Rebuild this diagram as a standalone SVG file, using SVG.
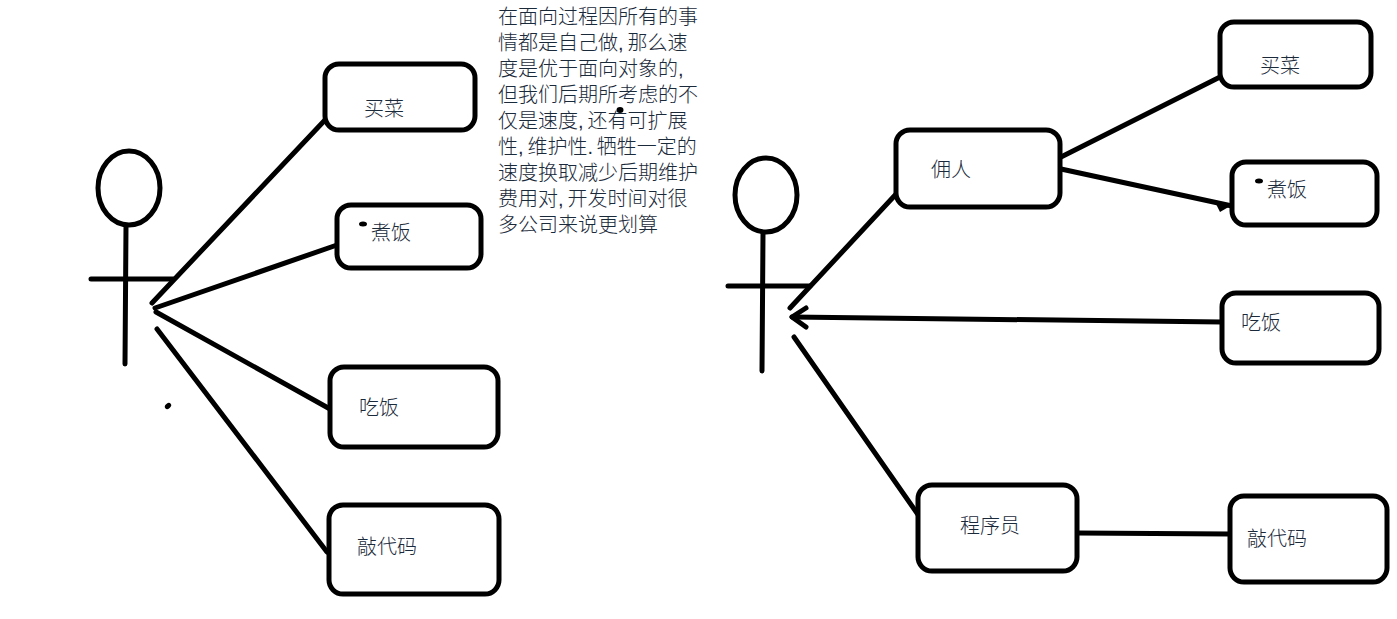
<svg xmlns="http://www.w3.org/2000/svg" width="1397" height="619" viewBox="0 0 1397 619">
<style>
.n{fill:#fff;stroke:#000;stroke-width:5}
.l{fill:none;stroke:#000;stroke-width:5;stroke-linecap:round;stroke-linejoin:round}
.t{font-family:"Liberation Sans","Noto Sans CJK SC",sans-serif;font-size:20px;fill:#1a2a3a;font-weight:300}
#note .t{word-spacing:-1.7px}
.d{fill:#000}
</style>
<rect width="1397" height="619" fill="#fff"/>
<g id="connectors">
<path class="l" d="M152 303L325 120"/>
<path class="l" d="M155 308L337 245"/>
<path class="l" d="M156 312L330 409"/>
<path class="l" d="M157 329L327 552"/>
<path class="l" d="M790 308L898 192"/>
<path class="l" d="M1061 157L1222 76"/>
<path class="l" d="M1061 169L1232 206"/>
<path class="l" d="M792 317L1222 322"/>
<path class="l" d="M794 337L919 516"/>
<path class="l" d="M1077 533L1230 534"/>
<path d="M1214 200L1232 205L1220 212Z" class="d"/>
<path class="l" d="M806 308L792 317L806 327"/>
</g>
<g id="actor-left">
<ellipse class="l" cx="129" cy="188" rx="31" ry="37"/>
<path class="l" d="M126 226L125 364M91 279L173 279"/>
</g>
<g id="actor-right">
<ellipse class="l" cx="766" cy="195" rx="31" ry="37"/>
<path class="l" d="M763 233L762 371M728 286L810 286"/>
</g>
<g id="n1"><rect class="n" x="325" y="64" width="150" height="66" rx="14"/><text class="t" x="364" y="116">买菜</text></g>
<g id="n2"><rect class="n" x="337" y="205" width="144" height="63" rx="14"/><text class="t" x="371" y="240">煮饭</text><ellipse class="d" cx="363" cy="224" rx="4" ry="2.5"/></g>
<g id="n3"><rect class="n" x="330" y="367" width="168" height="80" rx="14"/><text class="t" x="359" y="415">吃饭</text></g>
<g id="n4"><rect class="n" x="329" y="505" width="170" height="89" rx="14"/><text class="t" x="357" y="554">敲代码</text></g>
<g id="n5"><rect class="n" x="896" y="130" width="164" height="77" rx="14"/><text class="t" x="931" y="177">佣人</text></g>
<g id="n6"><rect class="n" x="1220" y="22" width="151" height="65" rx="14"/><text class="t" x="1260" y="73">买菜</text></g>
<g id="n7"><rect class="n" x="1232" y="162" width="145" height="63" rx="14"/><text class="t" x="1267" y="197">煮饭</text><ellipse class="d" cx="1259" cy="181" rx="4" ry="2.5"/></g>
<g id="n8"><rect class="n" x="1222" y="293" width="157" height="70" rx="14"/><text class="t" x="1241" y="330">吃饭</text></g>
<g id="n9"><rect class="n" x="918" y="485" width="159" height="86" rx="14"/><text class="t" x="960" y="533">程序员</text></g>
<g id="n10"><rect class="n" x="1230" y="496" width="157" height="86" rx="14"/><text class="t" x="1247" y="546">敲代码</text></g>
<g id="note">
<text class="t" x="498" y="24">在面向过程因所有的事</text>
<text class="t" x="498" y="50">情都是自己做, 那么速</text>
<text class="t" x="498" y="76">度是优于面向对象的,</text>
<text class="t" x="498" y="102">但我们后期所考虑的不</text>
<text class="t" x="498" y="128">仅是速度, 还有可扩展</text>
<text class="t" x="498" y="154">性, 维护性. 牺牲一定的</text>
<text class="t" x="498" y="180">速度换取减少后期维护</text>
<text class="t" x="498" y="206">费用对, 开发时间对很</text>
<text class="t" x="498" y="232">多公司来说更划算</text>
</g>
<ellipse class="d" cx="620" cy="110" rx="3.5" ry="3"/>
<ellipse class="d" cx="168" cy="406" rx="3.5" ry="2.5" transform="rotate(-40 168 406)"/>
</svg>
